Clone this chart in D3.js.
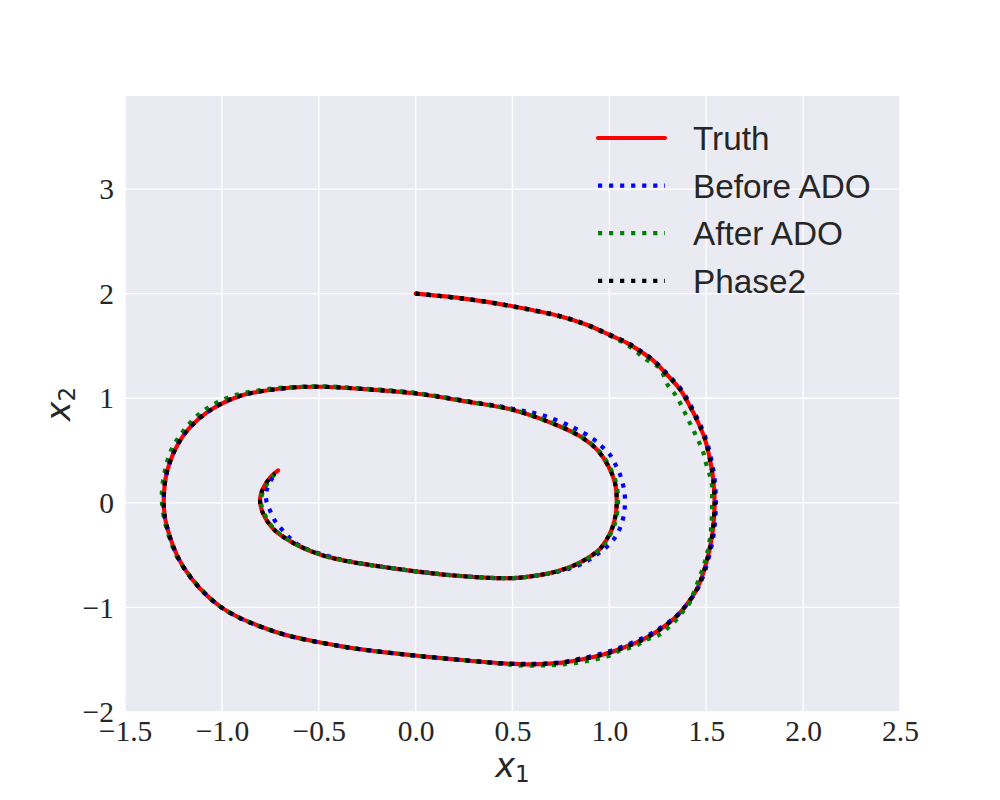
<!DOCTYPE html>
<html>
<head>
<meta charset="utf-8">
<script src="https://cdn.jsdelivr.net/npm/d3@7"></script>
<style>
  body { margin: 0; background: #fff; }
  svg { display: block; }
</style>
</head>
<body>
<svg id="chart" width="1000" height="800"></svg>
<script>
// trajectory samples [x1, x2]
const truth = [
  [0.00, 2.00], [0.26, 1.95], [0.50, 1.88], [0.745, 1.785], [0.88, 1.705],
  [1.00, 1.607], [1.09, 1.53], [1.16, 1.45], [1.23, 1.355], [1.296, 1.228],
  [1.365, 1.083], [1.416, 0.923], [1.459, 0.764], [1.494, 0.605], [1.519, 0.414],
  [1.536, 0.223], [1.543, 0.00], [1.532, -0.29], [1.513, -0.478], [1.485, -0.67],
  [1.451, -0.828], [1.40, -0.97], [1.348, -1.083], [1.261, -1.211], [1.175, -1.306],
  [1.072, -1.386], [0.969, -1.45], [0.848, -1.50], [0.745, -1.53], [0.60, -1.545],
  [0.45, -1.535], [0.28, -1.51], [0.02, -1.465], [-0.20, -1.42], [-0.39, -1.37],
  [-0.73, -1.23], [-1.01, -0.99], [-1.20, -0.61], [-1.285, -0.22], [-1.30, 0.00],
  [-1.28, 0.32], [-1.20, 0.64], [-1.08, 0.86], [-0.91, 1.02], [-0.65, 1.10],
  [-0.49, 1.11], [-0.25, 1.085], [0.00, 1.045], [0.26, 0.97], [0.50, 0.89],
  [0.745, 0.73], [0.848, 0.636], [0.935, 0.51], [0.995, 0.35], [1.029, 0.19],
  [1.038, 0.03], [1.032, -0.12], [1.015, -0.24], [0.986, -0.35], [0.952, -0.44],
  [0.85, -0.57], [0.73, -0.655], [0.54, -0.715], [0.42, -0.72], [0.20, -0.695],
  [0.00, -0.655], [-0.25, -0.59], [-0.39, -0.545], [-0.50, -0.49], [-0.63, -0.385],
  [-0.734, -0.25], [-0.79, -0.09], [-0.803, 0.03], [-0.786, 0.143], [-0.752, 0.239],
  [-0.71, 0.31]
];

const beforeADO = [
  [0.00, 2.00], [0.26, 1.95], [0.50, 1.88], [0.745, 1.787], [0.88, 1.708],
  [1.00, 1.61], [1.09, 1.535], [1.16, 1.455], [1.23, 1.36], [1.30, 1.232],
  [1.37, 1.087], [1.422, 0.925], [1.465, 0.765], [1.50, 0.605], [1.526, 0.414],
  [1.543, 0.223], [1.55, 0.00], [1.539, -0.29], [1.519, -0.478], [1.49, -0.67],
  [1.455, -0.825], [1.403, -0.965], [1.35, -1.075], [1.26, -1.20], [1.175, -1.29],
  [1.072, -1.37], [0.969, -1.437], [0.848, -1.49], [0.745, -1.525], [0.60, -1.54],
  [0.45, -1.535], [0.28, -1.51], [0.02, -1.465], [-0.20, -1.42], [-0.39, -1.37],
  [-0.73, -1.23], [-1.01, -0.99], [-1.20, -0.61], [-1.285, -0.22], [-1.30, 0.00],
  [-1.28, 0.32], [-1.20, 0.645], [-1.08, 0.865], [-0.91, 1.022], [-0.65, 1.10],
  [-0.49, 1.11], [-0.25, 1.088], [0.00, 1.05], [0.26, 0.975], [0.50, 0.90],
  [0.66, 0.835], [0.82, 0.715], [0.92, 0.605], [0.96, 0.54], [1.003, 0.46],
  [1.03, 0.37], [1.055, 0.27], [1.072, 0.16], [1.08, 0.06], [1.08, -0.03],
  [1.072, -0.14], [1.055, -0.24], [1.03, -0.33], [0.99, -0.415], [0.945, -0.48],
  [0.90, -0.54], [0.85, -0.59], [0.73, -0.66], [0.54, -0.715], [0.42, -0.72],
  [0.20, -0.695], [0.00, -0.655], [-0.25, -0.59], [-0.40, -0.535], [-0.55, -0.45],
  [-0.61, -0.395], [-0.65, -0.335], [-0.69, -0.255], [-0.725, -0.175], [-0.75, -0.08],
  [-0.77, 0.015], [-0.77, 0.11], [-0.745, 0.22], [-0.725, 0.27]
];

const afterADO = [
  [0.00, 2.00], [0.26, 1.95], [0.50, 1.875], [0.745, 1.78], [0.88, 1.70],
  [1.00, 1.60], [1.10, 1.50], [1.19, 1.37], [1.26, 1.285], [1.30, 1.13],
  [1.34, 1.035], [1.365, 0.955], [1.39, 0.86], [1.415, 0.765], [1.44, 0.67],
  [1.465, 0.57], [1.485, 0.48], [1.50, 0.37], [1.52, 0.25], [1.53, 0.16],
  [1.53, 0.03], [1.525, -0.25], [1.505, -0.48], [1.485, -0.61], [1.435, -0.86],
  [1.41, -0.97], [1.375, -1.05], [1.34, -1.13], [1.30, -1.20], [1.25, -1.27],
  [1.19, -1.31], [1.15, -1.355], [1.10, -1.39], [1.045, -1.42], [0.995, -1.465],
  [0.88, -1.515], [0.76, -1.545], [0.65, -1.555], [0.54, -1.555], [0.45, -1.54],
  [0.28, -1.51], [0.02, -1.465], [-0.20, -1.42], [-0.39, -1.37], [-0.73, -1.23],
  [-1.01, -0.99], [-1.20, -0.61], [-1.25, -0.44], [-1.30, -0.13], [-1.31, 0.08],
  [-1.295, 0.30], [-1.26, 0.51], [-1.20, 0.685], [-1.12, 0.845], [-1.03, 0.955],
  [-0.92, 1.035], [-0.81, 1.075], [-0.70, 1.10], [-0.58, 1.11], [-0.49, 1.115],
  [-0.25, 1.09], [0.00, 1.05], [0.26, 0.97], [0.50, 0.89], [0.745, 0.735],
  [0.848, 0.64], [0.94, 0.51], [1.00, 0.35], [1.035, 0.19], [1.045, 0.03],
  [1.038, -0.12], [1.021, -0.24], [0.99, -0.35], [0.955, -0.44], [0.85, -0.57],
  [0.73, -0.655], [0.54, -0.715], [0.42, -0.72], [0.20, -0.695], [0.00, -0.655],
  [-0.25, -0.59], [-0.39, -0.545], [-0.50, -0.49], [-0.63, -0.385], [-0.74, -0.23],
  [-0.795, -0.03], [-0.795, 0.06], [-0.77, 0.17], [-0.73, 0.27]
];

const phase2 = [
  [0.00, 2.00], [0.26, 1.95], [0.50, 1.88], [0.745, 1.785], [0.88, 1.705],
  [1.00, 1.607], [1.09, 1.53], [1.16, 1.45], [1.23, 1.355], [1.296, 1.228],
  [1.365, 1.083], [1.416, 0.923], [1.459, 0.764], [1.494, 0.605], [1.519, 0.414],
  [1.536, 0.223], [1.543, 0.00], [1.532, -0.29], [1.513, -0.478], [1.485, -0.67],
  [1.451, -0.828], [1.40, -0.97], [1.348, -1.083], [1.261, -1.211], [1.175, -1.306],
  [1.072, -1.386], [0.969, -1.45], [0.848, -1.50], [0.745, -1.53], [0.60, -1.545],
  [0.45, -1.535], [0.28, -1.51], [0.02, -1.465], [-0.20, -1.42], [-0.39, -1.37],
  [-0.73, -1.23], [-1.01, -0.99], [-1.20, -0.61], [-1.285, -0.22], [-1.30, 0.00],
  [-1.28, 0.32], [-1.20, 0.64], [-1.08, 0.86], [-0.91, 1.02], [-0.65, 1.10],
  [-0.49, 1.11], [-0.25, 1.085], [0.00, 1.045], [0.26, 0.97], [0.50, 0.89],
  [0.745, 0.73], [0.848, 0.636], [0.935, 0.51], [0.995, 0.35], [1.029, 0.19],
  [1.038, 0.03], [1.032, -0.12], [1.015, -0.24], [0.986, -0.35], [0.952, -0.44],
  [0.85, -0.57], [0.73, -0.655], [0.54, -0.715], [0.42, -0.72], [0.20, -0.695],
  [0.00, -0.655], [-0.25, -0.59], [-0.39, -0.545], [-0.50, -0.49], [-0.63, -0.385],
  [-0.734, -0.25], [-0.79, -0.09], [-0.803, 0.03], [-0.786, 0.143], [-0.745, 0.25],
  [-0.725, 0.28]
];

const seriesNames = ["Truth", "Before ADO", "After ADO", "Phase2"];
const seriesColors = ["#ff0000", "#0000ff", "#008000", "#000000"];
const xTicks = [-1.5, -1.0, -0.5, 0.0, 0.5, 1.0, 1.5, 2.0, 2.5];
const yTicks = [-2, -1, 0, 1, 2, 3];

const svg = d3.select("#chart");
const margin = {left: 125, right: 100, top: 96, bottom: 88};
const W = 1000, H = 800;

const x = d3.scaleLinear([-1.5, 2.5], [margin.left, W - margin.right]);
const y = d3.scaleLinear([-2, 3.89], [H - margin.bottom, margin.top]);

const textColor = "#262626";
const lw = 3 * 100 / 72;

// axes background
svg.append("rect")
    .attr("x", x.range()[0]).attr("y", y.range()[1])
    .attr("width", x.range()[1] - x.range()[0])
    .attr("height", y.range()[0] - y.range()[1])
    .attr("fill", "#eaeaf2");

// grid
const grid = svg.append("g");
grid.selectAll("line.vx")
    .data(xTicks)
    .join("line")
    .attr("class", "vx")
    .attr("x1", d => x(d)).attr("x2", d => x(d))
    .attr("y1", y.range()[0]).attr("y2", y.range()[1]);
grid.selectAll("line.hy")
    .data(yTicks)
    .join("line")
    .attr("class", "hy")
    .attr("y1", d => y(d)).attr("y2", d => y(d))
    .attr("x1", x.range()[0]).attr("x2", x.range()[1]);
grid.selectAll("line")
    .attr("stroke", "#fff")
    .attr("stroke-width", 1.4);

// tick labels
const xAxis = svg.append("g")
    .attr("transform", `translate(0,${y.range()[0]})`)
    .call(d3.axisBottom(x).tickValues(xTicks).tickSize(0).tickPadding(6).tickFormat(d3.format(".1f")));
const yAxis = svg.append("g")
    .attr("transform", `translate(${x.range()[0]},0)`)
    .call(d3.axisLeft(y).tickValues(yTicks).tickSize(0).tickPadding(11).tickFormat(d3.format("d")));
[xAxis, yAxis].forEach(ax => {
    ax.select(".domain").remove();
    ax.selectAll("text")
        .attr("fill", textColor)
        .style("font-family", "'Liberation Serif', 'Times New Roman', serif")
        .style("font-size", "29.5px");
});
xAxis.selectAll("text").attr("dy", "0.78em");
yAxis.selectAll("text").attr("dy", "0.33em");

// axis labels
const labelFont = "'DejaVu Sans', sans-serif";
const xl = svg.append("text")
    .attr("transform", `translate(${(x.range()[0] + x.range()[1]) / 2},777)`)
    .attr("text-anchor", "middle")
    .attr("fill", textColor)
    .style("font-family", labelFont)
    .style("font-size", "33.3px");
xl.append("tspan").attr("font-style", "italic").text("x");
xl.append("tspan").attr("font-size", "23px").attr("dy", 5).text("1");

const yl = svg.append("text")
    .attr("transform", `translate(70,${(y.range()[0] + y.range()[1]) / 2}) rotate(-90)`)
    .attr("text-anchor", "middle")
    .attr("fill", textColor)
    .style("font-family", labelFont)
    .style("font-size", "33.3px");
yl.append("tspan").attr("font-style", "italic").text("x");
yl.append("tspan").attr("font-size", "23px").attr("dy", 5).text("2");

// trajectories
const line = d3.line()
    .x(d => x(d[0]))
    .y(d => y(d[1]))
    .curve(d3.curveCatmullRom.alpha(0.5));

const plotArea = svg.append("g");
const allSeries = [truth, beforeADO, afterADO, phase2];
plotArea.selectAll("path")
    .data(allSeries)
    .join("path")
    .attr("d", line)
    .attr("fill", "none")
    .attr("stroke", (d, i) => seriesColors[i])
    .attr("stroke-width", lw)
    .attr("stroke-linecap", (d, i) => i === 0 ? "round" : "butt")
    .attr("stroke-linejoin", "round")
    .attr("stroke-dasharray", (d, i) => i === 0 ? null : `${lw},${lw * 1.65}`);

// legend
const legend = svg.append("g").attr("transform", "translate(598,138)");
const rowH = 47.6;
const entry = legend.selectAll("g")
    .data(seriesNames)
    .join("g")
    .attr("transform", (d, i) => `translate(0,${i * rowH})`);
entry.append("line")
    .attr("x1", 0).attr("x2", 67)
    .attr("stroke", (d, i) => seriesColors[i])
    .attr("stroke-width", lw)
    .attr("stroke-linecap", (d, i) => i === 0 ? "round" : "butt")
    .attr("stroke-dasharray", (d, i) => i === 0 ? null : `${lw},${lw * 1.65}`);
entry.append("text")
    .attr("x", 95).attr("y", 12)
    .attr("fill", textColor)
    .style("font-family", "'Liberation Sans', Arial, sans-serif")
    .style("font-size", "33.3px")
    .text(d => d);
</script>
</body>
</html>
